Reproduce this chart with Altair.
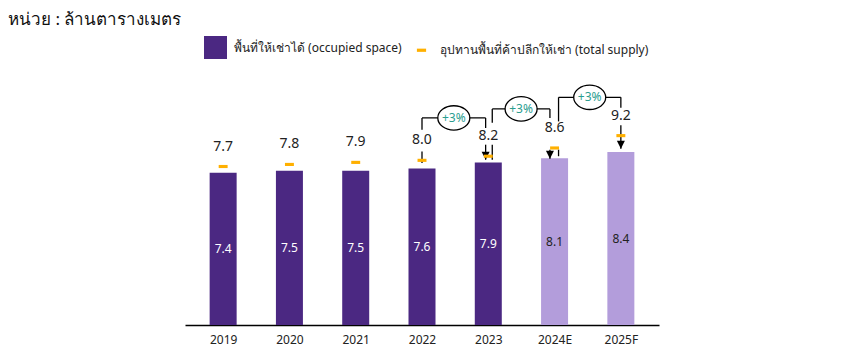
import altair as alt
import pandas as pd

# ---------------- data ----------------
years = ["2019", "2020", "2021", "2022", "2023", "2024E", "2025F"]
occupied = [7.4, 7.5, 7.5, 7.6, 7.9, 8.1, 8.4]
supply = [7.7, 7.8, 7.9, 8.0, 8.2, 8.6, 9.2]
is_projection = [False, False, False, False, False, True, True]

occupied_name = "พื้นที่ให้เช่าได้ (occupied space)"
supply_name = "อุปทานพื้นที่ค้าปลีกให้เช่า (total supply)"
title_text = "หน่วย : ล้านตารางเมตร"

# growth brackets (x in category-index units, y in value units)
bracket_from = [3.0, 4.06, 5.06]
bracket_to = [3.96, 4.93, 6.0]
bracket_level = [10.06, 10.5, 11.06]
bracket_text = ["+3%", "+3%", "+3%"]

# vertical connector pieces
leg_x = [3.0, 3.0, 3.96, 4.06, 4.06, 4.93, 5.06, 5.06, 6.0]
leg_top = [10.06, 8.43, 10.06, 10.5, 8.76, 10.5, 11.06, 8.52, 11.06]
leg_bottom = [9.49, 7.87, 9.57, 9.82, 8.03, 10.06, 9.89, 8.2, 10.55]

# arrows pointing down to the bars
arrow_x = [3.96, 4.93, 6.0]
arrow_top = [8.76, 8.52, 9.70]
arrow_tip = [8.03, 8.08, 8.56]

# ---------------- style ----------------
DARK = "#4B2882"
LIGHT = "#B39DDB"
ORANGE = "#FFB000"
TEAL = "#2A9D8F"
FONT = "Noto Sans"

idx = list(range(len(years)))
df = pd.DataFrame({
    "i": idx, "year": years, "occ": occupied, "sup": supply,
    "proj": is_projection,
    "series_occ": [occupied_name] * len(years),
    "series_sup": [supply_name] * len(years),
})

segs = pd.DataFrame({
    "x": bracket_from + leg_x + arrow_x,
    "x2": bracket_to + leg_x + arrow_x,
    "y": bracket_level + leg_top + arrow_top,
    "y2": bracket_level + leg_bottom + arrow_tip,
})
heads = pd.DataFrame({"x": arrow_x, "y": arrow_tip})
circ = pd.DataFrame({
    "x": [(a + b) / 2 for a, b in zip(bracket_from, bracket_to)],
    "y": bracket_level,
    "t": bracket_text,
})

xscale = alt.Scale(domain=[-0.5, len(years) - 0.5], nice=False, zero=False)
yscale = alt.Scale(domain=[0, 12], nice=False)
label_expr = "[" + ",".join("'%s'" % y for y in years) + "][datum.value]"

xaxis = alt.Axis(values=idx, labelExpr=label_expr, title=None, grid=False,
                 ticks=False, domainColor="#000000", domainWidth=1.5,
                 labelFontSize=12, labelColor="#222222", labelFont=FONT,
                 labelPadding=9)

DASH = "M-0.4,-0.14H0.4V0.14H-0.4Z"
ELLIPSE = ("M-1,0C-1,-0.42 -0.55,-0.76 0,-0.76C0.55,-0.76 1,-0.42 1,0"
           "C1,0.42 0.55,0.76 0,0.76C-0.55,0.76 -1,0.42 -1,0Z")
series_domain = [occupied_name, supply_name]
color_scale = alt.Scale(domain=series_domain, range=[DARK, ORANGE])
shape_scale = alt.Scale(domain=series_domain, range=["square", DASH])
legend = alt.Legend(title=None, orient="none", legendX=19, legendY=-42,
                    direction="horizontal", symbolSize=529, labelLimit=500,
                    labelFontSize=12, labelColor="#222222", labelFont=FONT,
                    labelOffset=7, columnPadding=8, symbolStrokeWidth=0)

base = alt.Chart(df)

bars = base.mark_bar(size=27).encode(
    x=alt.X("i:Q", scale=xscale, axis=xaxis),
    y=alt.Y("occ:Q", scale=yscale, axis=None),
    color=alt.condition("datum.proj", alt.value(LIGHT),
                        alt.Color("series_occ:N", scale=color_scale, legend=legend)),
)

bar_labels = base.mark_text(fontSize=12, font=FONT).encode(
    x="i:Q",
    y=alt.Y("mid:Q"),
    text=alt.Text("occ:Q", format=".1f"),
    color=alt.condition("datum.proj", alt.value("#222222"), alt.value("#FFFFFF")),
).transform_calculate(mid="datum.occ / 2")

markers = base.mark_point(filled=True, opacity=1, size=500).encode(
    x="i:Q",
    y="sup:Q",
    color=alt.Color("series_sup:N", scale=color_scale, legend=legend),
    shape=alt.Shape("series_sup:N", scale=shape_scale, legend=legend),
)

sup_labels = base.mark_text(fontSize=14, font=FONT, dy=-20, color="#222222").encode(
    x="i:Q", y="sup:Q", text=alt.Text("sup:Q", format=".1f"),
)

lines = alt.Chart(segs).mark_rule(color="#000000", strokeWidth=1.3).encode(
    x="x:Q", x2="x2:Q", y="y:Q", y2="y2:Q",
)

arrowheads = alt.Chart(heads).mark_point(
    shape="M-1,-2L1,-2L0,0Z", filled=True, color="#000000", opacity=1, size=64,
).encode(x="x:Q", y="y:Q")

ellipses = alt.Chart(circ).mark_point(
    shape=ELLIPSE, filled=True,
    fill="#FFFFFF", stroke="#000000", strokeWidth=1.3, opacity=1, size=1024,
).encode(x="x:Q", y="y:Q")

circ_text = alt.Chart(circ).mark_text(fontSize=12, font=FONT, color=TEAL).encode(
    x="x:Q", y="y:Q", text="t:N",
)

chart = alt.layer(
    bars, bar_labels, lines, arrowheads, markers, sup_labels, ellipses, circ_text
).properties(
    width=474, height=247,
    title=alt.TitleParams(title_text, anchor="start", dx=-177, dy=3, fontSize=17,
                          font=FONT, fontWeight="normal", color="#111111",
                          offset=10),
    autosize=alt.AutoSizeParams(type="none"),
    padding={"left": 177, "top": 70, "right": 183, "bottom": 25},
).configure_view(stroke=None)

chart.save("out.html", embed_options={"renderer": "svg", "actions": False})
